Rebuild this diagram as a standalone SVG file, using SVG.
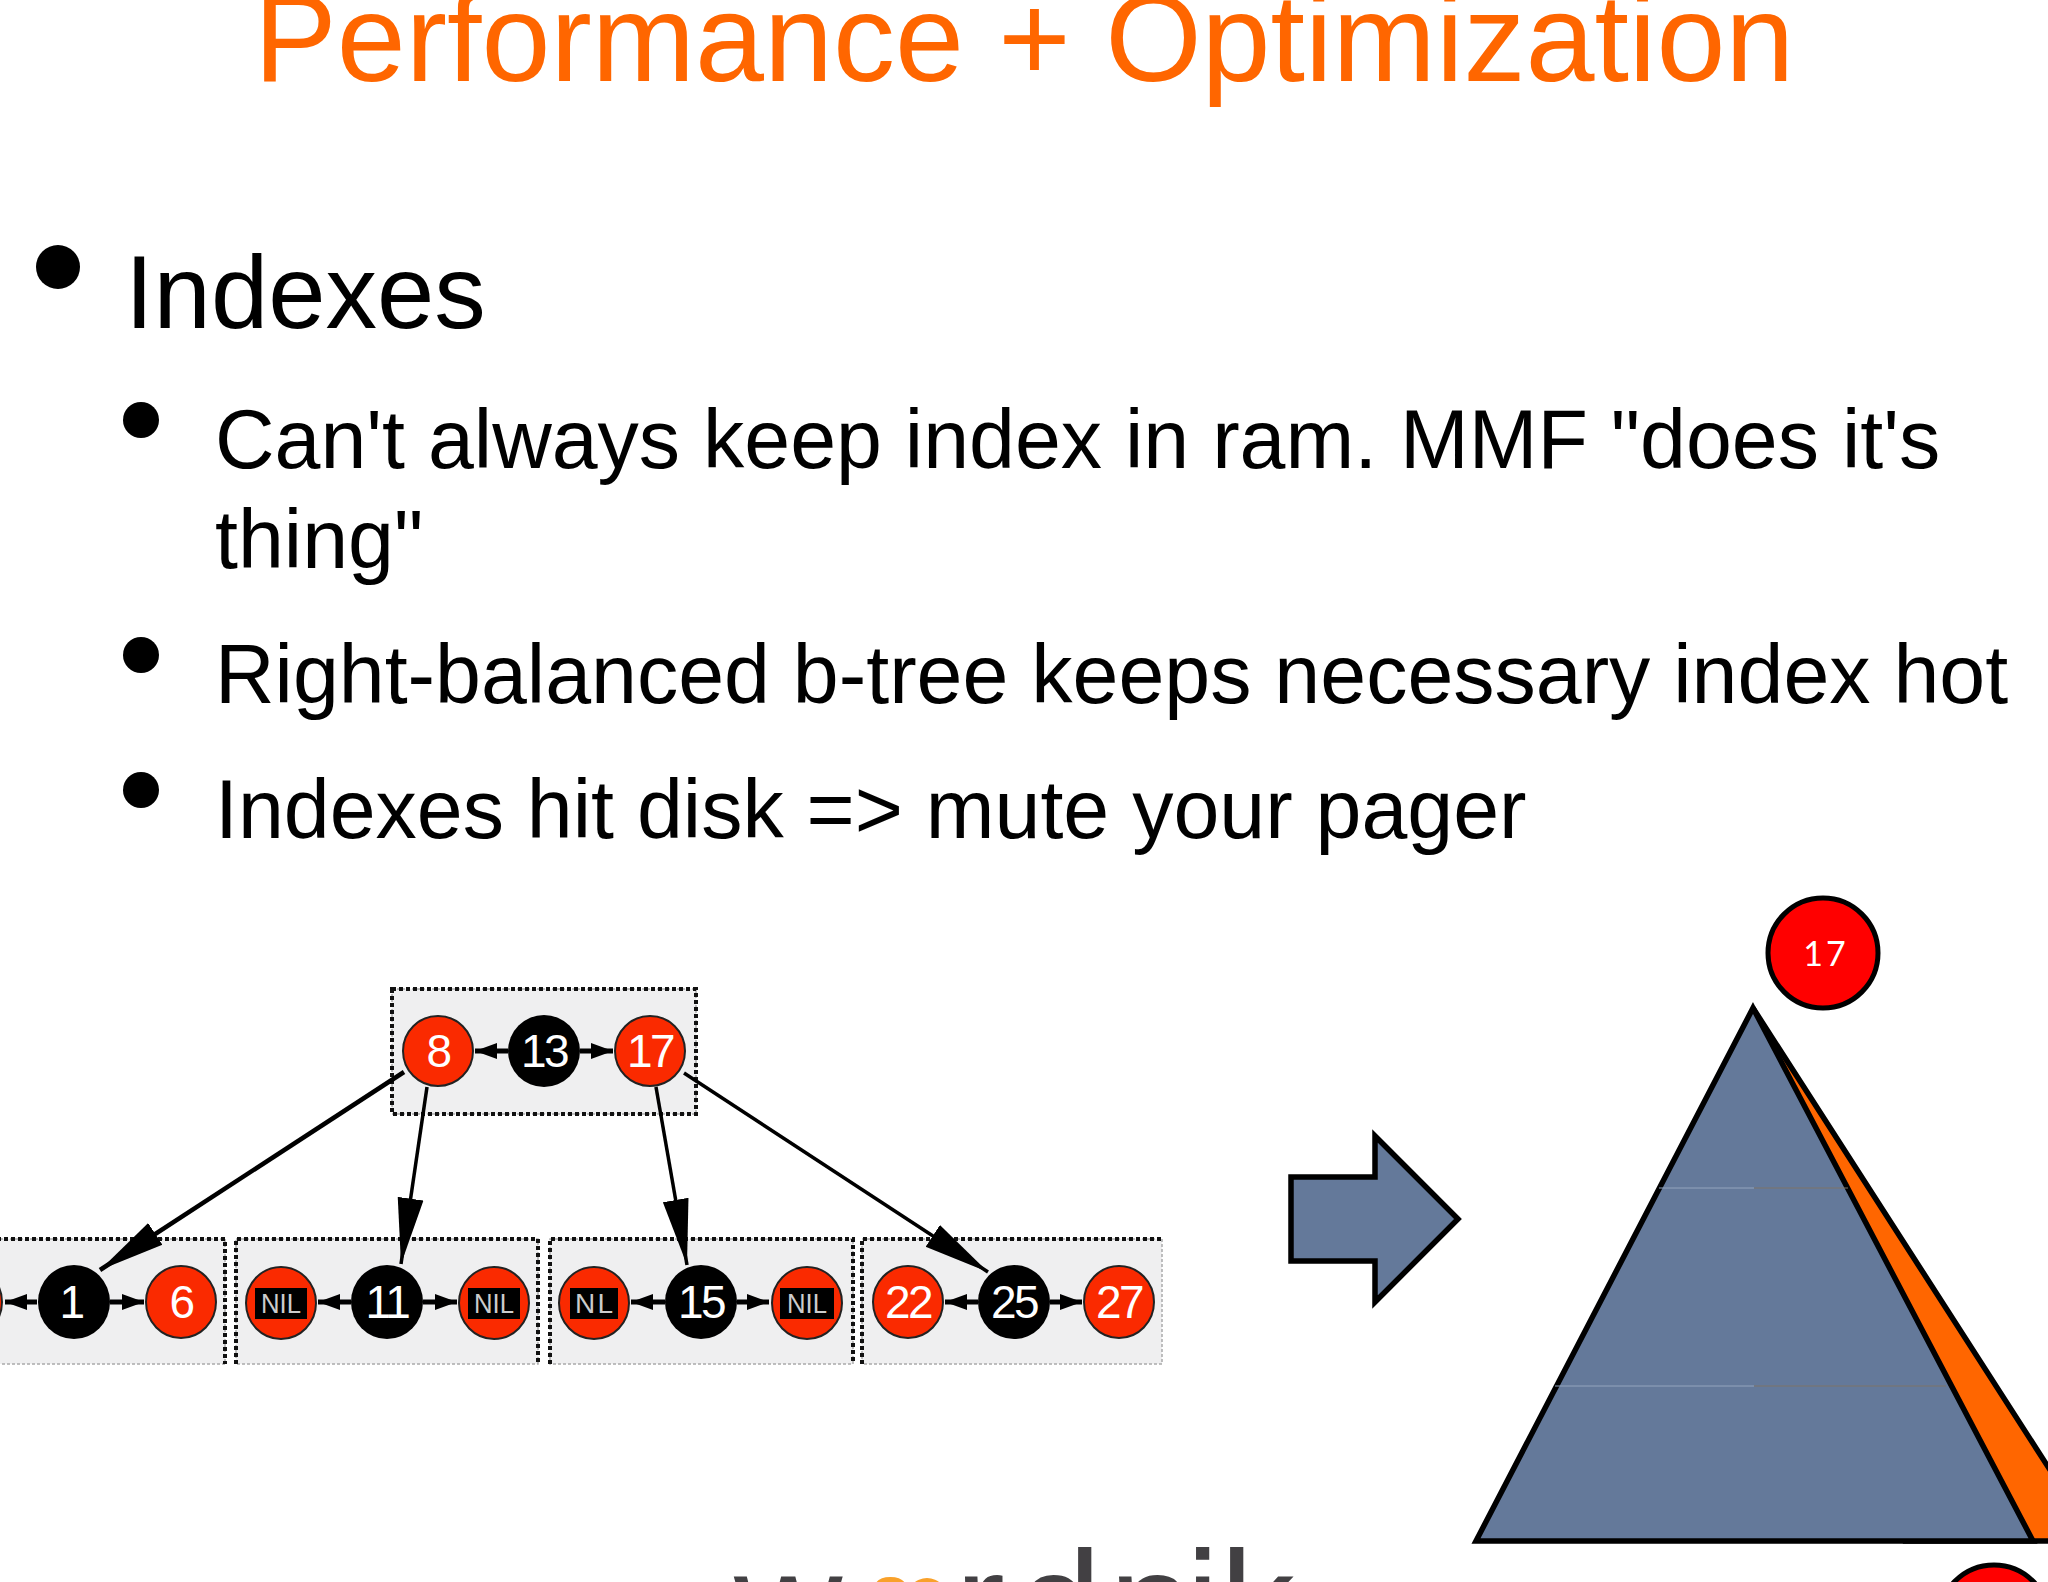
<svg xmlns="http://www.w3.org/2000/svg" width="2048" height="1582" viewBox="0 0 2048 1582">
<defs>
<marker id="bigHead" markerUnits="userSpaceOnUse" markerWidth="66" markerHeight="28" refX="66" refY="14" orient="auto"><polygon points="0,1 66,14 0,27" fill="#000"/></marker>
<marker id="smallHead" markerUnits="userSpaceOnUse" markerWidth="22" markerHeight="16" refX="22" refY="8" orient="auto"><polygon points="0,0 22,8 0,16" fill="#000"/></marker>
</defs>
<style>
text{font-family:"Liberation Sans",Arial,sans-serif}
.title{font-size:124px;fill:#ff6600}
.h1{font-size:103px;fill:#000}
.h2{font-size:82.5px;fill:#000}
.boxfill{fill:#efeff0;stroke:#aaa;stroke-width:1.5;stroke-dasharray:3 2}
.boxline{fill:none;stroke:#111;stroke-width:4;stroke-dasharray:4 3}
.r{fill:#fa2a00;stroke:#222;stroke-width:2}
.b{fill:#000}
.n{font-size:46px;fill:#fff;text-anchor:middle;letter-spacing:-2.5px}
.nil{font-size:28px;fill:#ccc;text-anchor:middle}
.e{stroke:#000;stroke-width:3.5;fill:none;marker-end:url(#bigHead)}
.s{stroke:#000;stroke-width:5;fill:none;marker-end:url(#smallHead)}
.blue{fill:#64799a;stroke:#000;stroke-width:5.5;stroke-linejoin:miter}
</style>
<rect width="2048" height="1582" fill="#fff"/>
<g id="slide-text">
<text class="title" x="254" y="81">Performance + Optimization</text>
<circle cx="58" cy="267" r="22"/>
<text class="h1" x="125" y="328">Indexes</text>
<circle cx="141" cy="420" r="18"/>
<text class="h2" x="215" y="468">Can't always keep index in ram. MMF "does it's</text>
<text class="h2" x="215" y="568">thing"</text>
<circle cx="141" cy="655" r="18"/>
<text class="h2" x="215" y="703">Right-balanced b-tree keeps necessary index hot</text>
<circle cx="141" cy="790" r="18"/>
<text class="h2" x="215" y="838">Indexes hit disk =&gt; mute your pager</text>
</g>
<g id="box-top"><rect class="boxfill" x="392" y="989" width="304" height="125"/><rect class="boxline" x="392" y="989" width="304" height="125"/></g>
<g id="box-a"><rect class="boxfill" x="-10" y="1239" width="235" height="125"/><path class="boxline" d="M-10 1239H225V1364"/></g>
<g id="box-b"><rect class="boxfill" x="236" y="1239" width="302" height="125"/><path class="boxline" d="M236 1364V1239H538V1364"/></g>
<g id="box-c"><rect class="boxfill" x="550" y="1239" width="303" height="125"/><path class="boxline" d="M550 1364V1239H853V1364"/></g>
<g id="box-d"><rect class="boxfill" x="862" y="1239" width="300" height="125"/><path class="boxline" d="M862 1364V1239H1162"/></g>
<g id="connectors">
<path class="e" style="stroke-width:4.5" d="M404 1072L100 1270"/>
<path class="e" d="M427 1087L401 1264"/>
<path class="e" d="M656 1087L687 1265"/>
<path class="e" d="M684 1073L988 1272"/>
<path class="s" d="M508 1051H475"/><path class="s" d="M580 1051H613"/>
<path class="s" d="M37 1302H5"/><path class="s" d="M110 1302H144"/>
<path class="s" d="M351 1302H318"/><path class="s" d="M423 1302H457"/>
<path class="s" d="M665 1302H631"/><path class="s" d="M737 1302H769"/>
<path class="s" d="M978 1302H945"/><path class="s" d="M1050 1302H1082"/>
</g>
<g id="n8"><ellipse class="r" cx="438" cy="1051" rx="35" ry="35"/><text class="n" x="438" y="1067">8</text></g>
<g id="n13"><ellipse class="b" cx="544" cy="1051" rx="36" ry="36"/><text class="n" x="544" y="1067">13</text></g>
<g id="n17"><ellipse class="r" cx="650" cy="1051" rx="35" ry="35"/><text class="n" x="650" y="1067">17</text></g>
<g id="n-left"><ellipse class="r" cx="-34" cy="1302" rx="36" ry="36"/></g>
<g id="n1"><ellipse class="b" cx="74" cy="1302" rx="36" ry="37"/><text class="n" x="71" y="1318">1</text></g>
<g id="n6"><ellipse class="r" cx="181" cy="1302" rx="35" ry="36"/><text class="n" x="181" y="1318">6</text></g>
<g id="nil1"><ellipse class="r" cx="281" cy="1303" rx="35" ry="36"/><rect x="255" y="1288" width="52" height="31"/><text class="nil" x="281" y="1313" textLength="40" lengthAdjust="spacingAndGlyphs">NIL</text></g>
<g id="n11"><ellipse class="b" cx="387" cy="1302" rx="36" ry="37"/><text class="n" x="387" y="1318">11</text></g>
<g id="nil2"><ellipse class="r" cx="494" cy="1303" rx="35" ry="36"/><rect x="468" y="1288" width="52" height="31"/><text class="nil" x="494" y="1313" textLength="40" lengthAdjust="spacingAndGlyphs">NIL</text></g>
<g id="nil3"><ellipse class="r" cx="594" cy="1303" rx="35" ry="36"/><rect x="570" y="1288" width="48" height="31"/><text class="nil" x="594" y="1313" textLength="38" lengthAdjust="spacing">NL</text></g>
<g id="n15"><ellipse class="b" cx="701" cy="1302" rx="36" ry="37"/><text class="n" x="701" y="1318">15</text></g>
<g id="nil4"><ellipse class="r" cx="807" cy="1303" rx="35" ry="36"/><rect x="780" y="1288" width="54" height="31"/><text class="nil" x="807" y="1313" textLength="40" lengthAdjust="spacingAndGlyphs">NIL</text></g>
<g id="n22"><ellipse class="r" cx="908" cy="1302" rx="35" ry="36"/><text class="n" x="908" y="1318">22</text></g>
<g id="n25"><ellipse class="b" cx="1014" cy="1302" rx="36" ry="37"/><text class="n" x="1014" y="1318">25</text></g>
<g id="n27"><ellipse class="r" cx="1119" cy="1302" rx="35" ry="36"/><text class="n" x="1119" y="1318">27</text></g>
<g id="arrow"><polygon class="blue" points="1291,1177 1375,1177 1375,1136 1458,1219 1375,1302 1375,1261 1291,1261"/></g>
<g id="pyramid">
<polygon points="1753,1008 2052,1473 2052,1541 1905,1541" fill="#ff6600" stroke="#000" stroke-width="5.5"/>
<polygon class="blue" points="1753,1008 2033,1541 1476,1541"/>
<path d="M1659 1188H1754M1555 1386H1754" stroke="#93a5bd" stroke-width="1"/>
<path d="M1754 1188H1848M1754 1386H1946" stroke="#7d7568" stroke-width="1"/>
</g>
<g id="red17"><circle cx="1823" cy="953" r="55" fill="#ff0000" stroke="#000" stroke-width="5"/><text x="1826" y="966" font-size="34" fill="#fff" text-anchor="middle" letter-spacing="3" style="font-family:Lato,'Liberation Sans',sans-serif">17</text></g>
<g id="red-bottom"><circle cx="1994" cy="1620" r="55" fill="#ff0000" stroke="#000" stroke-width="5"/></g>
<g id="logo">
<ellipse cx="927" cy="1600" rx="21" ry="22" fill="#f9a12a"/>
<text y="1656" font-size="150" fill="#424043"><tspan x="734">w</tspan><tspan x="868" y="1620" font-size="80" fill="#f9a12a">o</tspan><tspan x="955" y="1656">r</tspan><tspan x="1018">d</tspan><tspan x="1109">n</tspan><tspan x="1186">i</tspan><tspan x="1220">k</tspan></text>
</g>
</svg>
